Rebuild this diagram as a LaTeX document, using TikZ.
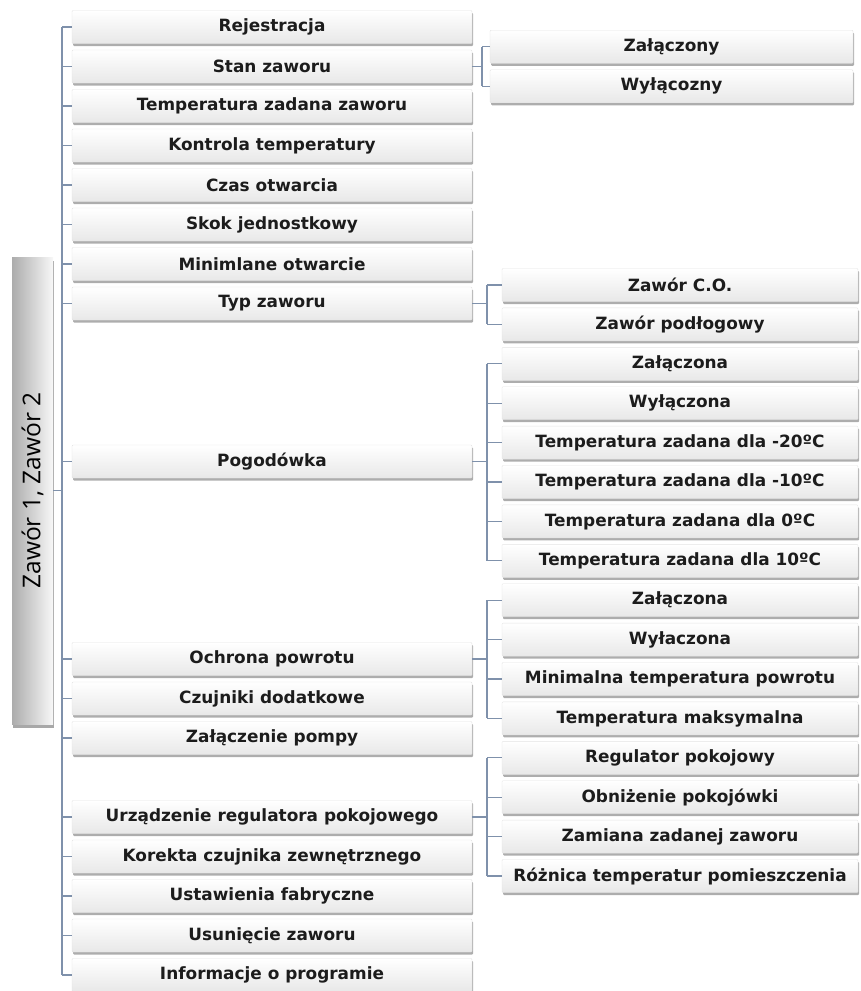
\documentclass[tikz,border=0pt]{standalone}
\usepackage{fontspec}
\setmainfont{DejaVu Sans}
\newfontfamily\barfont{Open Sans}
\usetikzlibrary{shadows}
\definecolor{linkblue}{HTML}{7F91AB}
\definecolor{menutext}{HTML}{1C1C1C}
\tikzset{
  menubox/.style={rectangle, rounded corners=1pt, draw=gray!22, top color=white, bottom color=gray!18,
    drop shadow={shadow xshift=1.2pt, shadow yshift=-2.5pt, fill=gray!75, opacity=0.85},
    minimum height=33pt, inner sep=0pt, text=menutext,
    font=\fontsize{16.9}{18}\selectfont\bfseries},
  mainbox/.style={menubox, minimum width=400pt},
  subbox/.style={menubox, minimum width=356pt},
  stanbox/.style={menubox, minimum width=363pt},
  sidebar/.style={rectangle, left color=gray!65, right color=gray!6,
    drop shadow={shadow xshift=1pt, shadow yshift=-4pt, fill=gray!80, opacity=0.85},
    minimum width=41pt, minimum height=467pt, inner sep=0pt},
  branch/.style={draw=linkblue, line width=1.2pt},
}
\begin{document}
\begin{tikzpicture}[x=1pt,y=-1pt]
\useasboundingbox (0,0) rectangle (861,991);
\coordinate (trunk) at (62,0);
\coordinate (stanx) at (482,0);
\coordinate (subx) at (487,0);

% side bar
\node[sidebar] (bar) at (32.5,490.5) {};
\node[rotate=90, text=black, font=\barfont\fontsize{24.5}{26}\selectfont] (barlabel) at (bar.center) {Zawór 1, Zawór 2};

% main column
\foreach \name/\k/\label in {rej/0/Rejestracja, stan/1/Stan zaworu, tzad/2/Temperatura zadana zaworu,
  kontr/3/Kontrola temperatury, czas/4/Czas otwarcia, skok/5/Skok jednostkowy,
  minot/6/Minimlane otwarcie, typ/7/Typ zaworu, pogo/11/Pogodówka, ochr/16/Ochrona powrotu,
  czuj/17/Czujniki dodatkowe, pomp/18/Załączenie pompy, urz/20/Urządzenie regulatora pokojowego,
  kor/21/Korekta czujnika zewnętrznego, fabr/22/Ustawienia fabryczne, usun/23/Usunięcie zaworu,
  info/24/Informacje o programie}
  \node[mainbox] (\name) at (272,27+39.5*\k) {\label};

% Stan zaworu
\node[stanbox] (zal1) at (671.5,46.75) {Załączony};
\node[stanbox] (wyl1) at (671.5,86.25) {Wyłącozny};

% right column
\foreach \name/\j/\label in {co/0/Zawór C.O., podl/1/Zawór podłogowy,
  pzal/2/Załączona, pwyl/3/Wyłączona, p20m/4/Temperatura zadana dla -20ºC,
  p10m/5/Temperatura zadana dla -10ºC, p0/6/Temperatura zadana dla 0ºC,
  p10/7/Temperatura zadana dla 10ºC, ozal/8/Załączona, owyl/9/Wyłaczona,
  omin/10/Minimalna temperatura powrotu, omax/11/Temperatura maksymalna,
  ureg/12/Regulator pokojowy, uobn/13/Obniżenie pokojówki, uzam/14/Zamiana zadanej zaworu,
  uroz/15/Różnica temperatur pomieszczenia}
  \node[subbox] (\name) at (680,285+39.4*\j) {\label};

% connectors
\draw[branch] (bar.east) -- (bar.east -| trunk);
\draw[branch] (rej.west -| trunk) -- (info.west -| trunk);
\foreach \name in {rej,stan,tzad,kontr,czas,skok,minot,typ,pogo,ochr,czuj,pomp,urz,kor,fabr,usun,info}
  \draw[branch] (\name.west) -- (\name.west -| trunk);

\draw[branch] (stan.east) -- (stan.east -| stanx);
\draw[branch] (zal1.west -| stanx) -- (wyl1.west -| stanx);
\foreach \name in {zal1,wyl1}
  \draw[branch] (\name.west) -- (\name.west -| stanx);

\foreach \parent/\first/\last/\kids in {typ/co/podl/{co,podl}, pogo/pzal/p10/{pzal,pwyl,p20m,p10m,p0,p10},
  ochr/ozal/omax/{ozal,owyl,omin,omax}, urz/ureg/uroz/{ureg,uobn,uzam,uroz}}
{
  \draw[branch] (\parent.east) -- (\parent.east -| subx);
  \draw[branch] (\first.west -| subx) -- (\last.west -| subx);
  \foreach \name in \kids
    \draw[branch] (\name.west) -- (\name.west -| subx);
}
\end{tikzpicture}
\end{document}
